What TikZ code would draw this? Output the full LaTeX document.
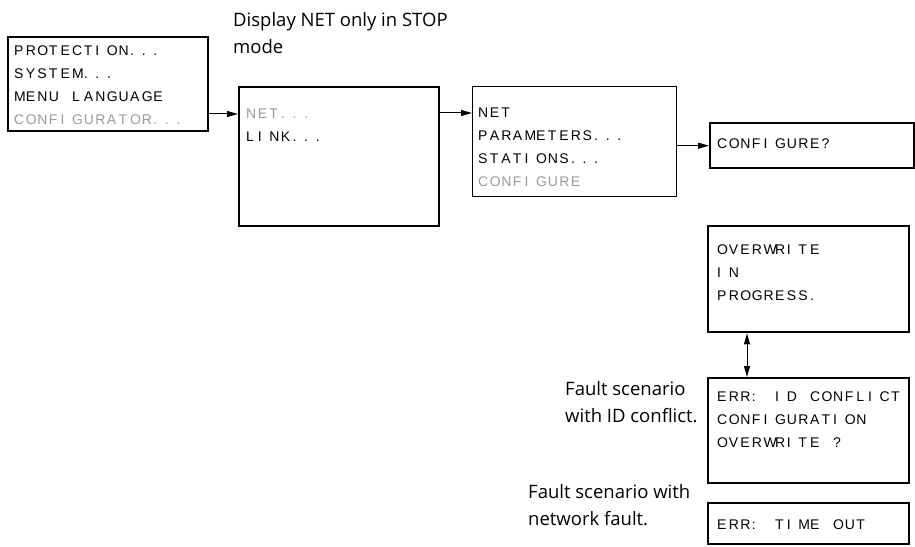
\documentclass[tikz,border=0pt]{standalone}
\usepackage{fontspec}
\setmainfont{Open Sans}
\newfontfamily\lcdfont{Liberation Sans}
\usetikzlibrary{arrows.meta,positioning}
\definecolor{LcdDim}{HTML}{9A9A9A}
\newlength\lcdcell
\setlength\lcdcell{11.6bp}
\makeatletter
\newcommand\lcd[1]{\@tfor\lcdch:=#1\do{\makebox[\lcdcell][l]{\lcdch}}}
\makeatother
\tikzset{>={Stealth[length=11bp,width=6bp,inset=0pt]},every node/.style={inner sep=0pt},
 screen/.style={draw,line width=2.4bp,anchor=north west},
 lcdtext/.style={align=left,font=\lcdfont\fontsize{14bp}{23bp}\selectfont},
 note/.style={align=left,font=\fontsize{18.5bp}{27bp}\selectfont},
 link/.style={line width=1bp,->}}

\begin{document}
\begin{tikzpicture}[x=1bp,y=-1bp]
\useasboundingbox (0,0) rectangle (915,547);
\node[screen,minimum width=200bp,minimum height=94bp] (menu) at (7,36) {};
\node[screen,minimum width=200bp,minimum height=139bp] (netmenu) at (238,86) {};
\node[screen,line width=1bp,minimum width=204bp,minimum height=110bp] (netparam) at (472,86) {};
\node[screen,minimum width=204bp,minimum height=45bp] (confq) at (709,122) {};
\node[screen,minimum width=201bp,minimum height=106bp] (progress) at (707,225) {};
\node[screen,minimum width=201bp,minimum height=105bp] (idconf) at (707,377) {};
\node[screen,minimum width=201bp,minimum height=41bp] (timeout) at (707,502) {};
% display texts
\node[lcdtext,below right=10bp and 7bp of menu.north west] (menutxt)
 {\lcd{PROTECTION...}\\\lcd{SYSTEM...}\\\lcd{MENU~LANGUAGE}\\\textcolor{LcdDim}{\lcd{CONFIGURATOR...}}};
\node[lcdtext,below right=23bp and 8bp of netmenu.north west] (netmenutxt)
 {\textcolor{LcdDim}{\lcd{NET...}}\\\lcd{LINK...}};
\node[lcdtext,below right=22bp and 6bp of netparam.north west] (netparamtxt)
 {\lcd{NET}\\\lcd{PARAMETERS...}\\\lcd{STATIONS...}\\\textcolor{LcdDim}{\lcd{CONFIGURE}}};
\node[lcdtext,below right=17bp and 8bp of confq.north west] (confqtxt) {\lcd{CONFIGURE?}};
\node[lcdtext,below right=20bp and 10bp of progress.north west] (progresstxt)
 {\lcd{OVERWRITE}\\\lcd{IN}\\\lcd{PROGRESS.}};
\node[lcdtext,below right=15bp and 10bp of idconf.north west] (idconftxt)
 {\lcd{ERR:~ID~CONFLICT}\\\lcd{CONFIGURATION}\\\lcd{OVERWRITE~?}};
\node[lcdtext,below right=18bp and 10bp of timeout.north west] (timeouttxt) {\lcd{ERR:~TIME~OUT}};
% notes
\node[note,anchor=north west] (stopnote) at (233,12) {Display NET only in STOP\\mode};
\node[note,anchor=north west] (idnote) at (565,381) {Fault scenario\\with ID conflict.};
\node[note,anchor=north west] (netnote) at (528,484) {Fault scenario with\\network fault.};
% connectors
\draw[link] ([yshift=-28bp]netmenu.north west -| menu.east) -- ([yshift=-28bp]netmenu.north west);
\draw[link] ([yshift=-27bp]netmenu.north east) -- ([yshift=-27bp]netparam.north west);
\draw[link] (netparam.east |- confq.west) -- (confq.west);
\draw[link,<->] ([xshift=40bp]progress.south west) -- ([xshift=40bp]idconf.north west);
\end{tikzpicture}
\end{document}
